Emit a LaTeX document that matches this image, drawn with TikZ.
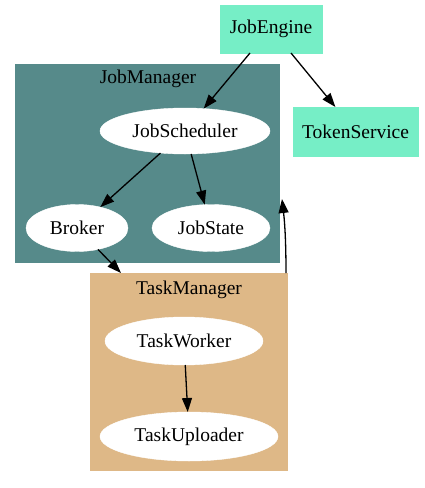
\documentclass[tikz,border=0pt]{standalone}
\usepackage{fontspec}
\setmainfont{Liberation Serif}
\usetikzlibrary{arrows.meta,shapes.geometric}
\definecolor{mint}{HTML}{76EEC6}
\definecolor{teal4}{HTML}{568A8A}
\definecolor{burly}{HTML}{DEB887}
\begin{document}
\begin{tikzpicture}[x=1pt,y=-1pt,
  every node/.style={font=\fontsize{19.5}{22}\selectfont, inner sep=0pt, outer sep=0pt},
  boxnode/.style={draw=mint, fill=mint, rectangle},
  ellnode/.style={ellipse, draw=white, fill=white},
  clusterbox/.style={rectangle, inner sep=0pt},
  arr/.style={-{Triangle[length=14pt,width=10pt]}, line width=1.3pt, black}
]
\useasboundingbox (0,0) rectangle (424,488);
% clusters
\node[clusterbox, fill=teal4, minimum width=265pt, minimum height=199pt] (jm) at (147.5,163.5) {};
\node (jmlabel) at (148,79) {JobManager};
\node[clusterbox, fill=burly, minimum width=198pt, minimum height=198pt] (tm) at (189,372) {};
\node (tmlabel) at (189,290) {TaskManager};
% nodes
\node[boxnode, minimum width=102pt, minimum height=48pt] (je) at (271,29) {JobEngine};
\node[boxnode, minimum width=125pt, minimum height=49pt] (ts) at (355.5,131.5) {TokenService};
\node[ellnode, minimum width=170pt, minimum height=46pt] (js) at (185,131) {JobScheduler};
\node[ellnode, minimum width=102pt, minimum height=47pt] (br) at (77,228) {Broker};
\node[ellnode, minimum width=118pt, minimum height=47pt] (jst) at (211,228) {JobState};
\node[ellnode, minimum width=158pt, minimum height=48pt] (tw) at (184,341) {TaskWorker};
\node[ellnode, minimum width=178pt, minimum height=49pt] (tu) at (189,436.5) {TaskUploader};
% coordinates for edges
\coordinate (je1) at (250,53);
\coordinate (je2) at (291,53);
\coordinate (tmin) at (121,273);
\coordinate (tmout) at (286,273);
\coordinate (jmin) at (282,199);
% edges
\draw[arr] (je1) -- (js);
\draw[arr] (je2) -- (ts);
\draw[arr] (js) -- (br);
\draw[arr] (js) -- (jst);
\draw[arr] (br) -- (tmin);
\draw[arr] (tmout) .. controls (286,245) and (285,225) .. (jmin);
\draw[arr] (tw) -- (tu);
\end{tikzpicture}
\end{document}
